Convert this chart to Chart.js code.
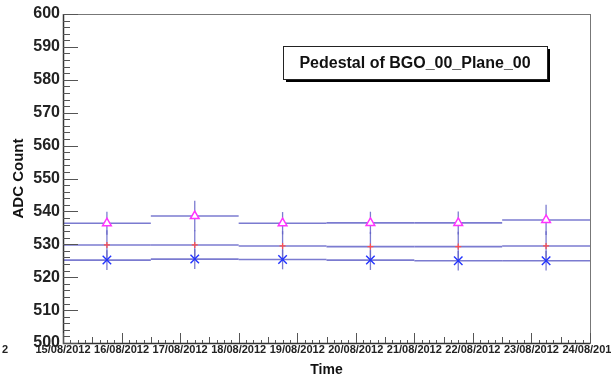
<!DOCTYPE html>
<html>
<head>
<meta charset="utf-8">
<script src="https://cdn.jsdelivr.net/npm/chart.js@4"></script>
<style>
  html, body { margin: 0; padding: 0; background: #fff; }
</style>
</head>
<body>
<canvas id="pedestal" width="611" height="377"></canvas>
<script>
// run times (centre of each run) and the day labels of the time axis
const times = ['15/08/2012 18:00', '17/08/2012 06:00', '18/08/2012 18:00', '20/08/2012 06:00', '21/08/2012 18:00', '23/08/2012 06:00'];
const dayLabels = ['15/08/2012', '16/08/2012', '17/08/2012', '18/08/2012', '19/08/2012', '20/08/2012', '21/08/2012', '22/08/2012', '23/08/2012', '24/08/2012'];
const yTicks = [500, 510, 520, 530, 540, 550, 560, 570, 580, 590, 600];

// pedestal values (ADC) and errors, three series
const highMean = [536.4, 538.6, 536.4, 536.5, 536.5, 537.4];
const highErr = [3.5, 4.6, 3.4, 3.4, 3.5, 4.6];
const midMean = [529.8, 529.8, 529.5, 529.3, 529.3, 529.5];
const midErr = [4.5, 4.5, 4.5, 4.5, 4.5, 4.5];
const lowMean = [525.2, 525.5, 525.4, 525.2, 525.0, 525.0];
const lowErr = [3.0, 3.0, 3.0, 3.0, 3.0, 3.0];
const runHalfWidth = 0.75; // days

function toDays(s) {
  const [d, t] = s.split(' ');
  const day = parseInt(d.slice(0, 2), 10) - 15;
  const [h, m] = t.split(':').map(Number);
  return day + (h * 60 + m) / 1440;
}
const xs = times.map(toDays);

function points(mean, err) {
  return mean.map((v, i) => ({ x: xs[i], y: v, err: err[i] }));
}

const barColor = 'rgba(100,100,200,0.85)';

const rootStyle = {
  id: 'rootStyle',
  beforeDatasetsDraw(chart) {
    const { ctx, scales: { x, y } } = chart;
    ctx.save();
    ctx.strokeStyle = barColor;
    chart.data.datasets.forEach(ds => {
      ds.data.forEach(p => {
        const px = x.getPixelForValue(p.x);
        const py = y.getPixelForValue(p.y);
        ctx.lineWidth = 1.6;
        ctx.beginPath();
        ctx.moveTo(x.getPixelForValue(p.x - runHalfWidth), py);
        ctx.lineTo(x.getPixelForValue(p.x + runHalfWidth), py);
        ctx.stroke();
        ctx.lineWidth = 1.3;
        ctx.beginPath();
        ctx.moveTo(px, y.getPixelForValue(p.y + p.err));
        ctx.lineTo(px, y.getPixelForValue(p.y - p.err));
        ctx.stroke();
      });
    });
    ctx.restore();
  },
  afterDraw(chart) {
    const { ctx, chartArea: a, scales: { x, y } } = chart;
    ctx.save();
    // frame
    ctx.strokeStyle = '#777';
    ctx.lineWidth = 1;
    ctx.strokeRect(a.left + 0.5, a.top + 0.5, a.right - a.left, a.bottom - a.top);
    ctx.strokeStyle = '#333';
    ctx.lineWidth = 1.5;
    ctx.beginPath();
    ctx.moveTo(a.left + 0.5, a.top);
    ctx.lineTo(a.left + 0.5, a.bottom + 0.5);
    ctx.lineTo(a.right, a.bottom + 0.5);
    ctx.stroke();

    // y ticks, inside
    ctx.strokeStyle = '#555';
    ctx.lineWidth = 1;
    for (let v = 500; v <= 600; v += 2) {
      const py = Math.round(y.getPixelForValue(v)) + 0.5;
      const len = v % 10 === 0 ? 15 : 7;
      ctx.beginPath();
      ctx.moveTo(a.left, py);
      ctx.lineTo(a.left + len, py);
      ctx.stroke();
    }
    // x ticks, every 3 hours
    for (let k = 0; k <= 72; k++) {
      const px = Math.round(x.getPixelForValue(k / 8)) + 0.5;
      const len = k % 8 === 0 ? 10 : (k % 4 === 0 ? 6 : 3);
      ctx.beginPath();
      ctx.moveTo(px, a.bottom);
      ctx.lineTo(px, a.bottom - len);
      ctx.stroke();
    }

    // x labels
    ctx.fillStyle = '#222';
    ctx.font = 'bold 11px "Liberation Sans", Arial, sans-serif';
    ctx.textAlign = 'center';
    ctx.textBaseline = 'middle';
    dayLabels.forEach((lab, i) => {
      ctx.fillText(lab, x.getPixelForValue(i), a.bottom + 7);
    });
    ctx.fillText('2', 5, a.bottom + 7);

    // title box
    const bx = 283, by = 46, bw = 264, bh = 33;
    ctx.fillStyle = '#000';
    ctx.fillRect(bx + 3, by + 3, bw, bh);
    ctx.fillStyle = '#fff';
    ctx.fillRect(bx, by, bw, bh);
    ctx.strokeStyle = '#222';
    ctx.lineWidth = 1;
    ctx.strokeRect(bx + 0.5, by + 0.5, bw, bh);
    ctx.fillStyle = '#111';
    ctx.font = 'bold 16px "Liberation Sans", Arial, sans-serif';
    ctx.fillText('Pedestal of BGO_00_Plane_00', bx + bw / 2, by + bh / 2 + 1);
    ctx.restore();
  }
};

new Chart(document.getElementById('pedestal'), {
  type: 'scatter',
  data: {
    datasets: [{
      label: 'high',
      data: points(highMean, highErr),
      pointStyle: 'triangle',
      pointRadius: 5,
      borderColor: '#ff33ff',
      backgroundColor: '#fff',
      borderWidth: 1.5
    }, {
      label: 'mid',
      data: points(midMean, midErr),
      pointStyle: 'cross',
      pointRadius: 3,
      borderColor: '#ff5050',
      borderWidth: 1.2
    }, {
      label: 'low',
      data: points(lowMean, lowErr),
      pointStyle: 'crossRot',
      pointRadius: 6,
      borderColor: '#2233ff',
      borderWidth: 1.4
    }]
  },
  options: {
    responsive: false,
    animation: false,
    layout: { padding: { top: 14, right: 21, left: 0, bottom: 0 } },
    plugins: { legend: { display: false }, tooltip: { enabled: false } },
    scales: {
      x: {
        type: 'linear',
        min: 0,
        max: 9,
        grid: { display: false, drawTicks: false },
        border: { display: false },
        ticks: { display: false },
        title: {
          display: true,
          text: 'Time',
          color: '#111',
          font: { family: '"Liberation Sans", Arial, sans-serif', size: 14, weight: 'bold' },
          padding: { top: 0, bottom: -2 }
        },
        afterFit(s) { s.height = 34; }
      },
      y: {
        min: 500,
        max: 600,
        afterBuildTicks(s) { s.ticks = yTicks.map(v => ({ value: v })); },
        grid: { display: false, drawTicks: false },
        border: { display: false },
        ticks: {
          padding: 3,
          color: '#222',
          font: { family: '"Liberation Sans", Arial, sans-serif', size: 16, weight: 'bold' }
        },
        title: {
          display: true,
          text: 'ADC Count',
          color: '#111',
          font: { family: '"Liberation Sans", Arial, sans-serif', size: 15, weight: 'bold' },
          padding: { top: 10, bottom: 0 }
        },
        afterFit(s) { s.width = 63; }
      }
    }
  },
  plugins: [rootStyle]
});
</script>
</body>
</html>
